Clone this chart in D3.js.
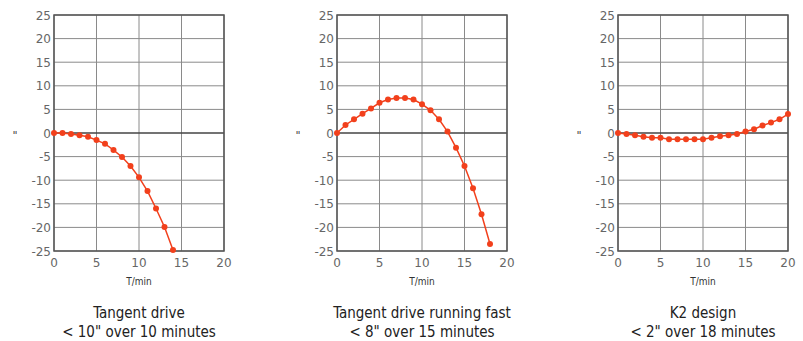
<!DOCTYPE html>
<html>
<head>
<meta charset="utf-8">
<script src="https://cdn.jsdelivr.net/npm/d3@7"></script>
<style>
  body { margin: 0; background: #fff; }
  svg { display: block; }
</style>
</head>
<body>
<div id="chart"></div>
<script>
// drift in arcseconds vs time (minutes), one array per panel
var tangentT = d3.range(0, 15);
var tangentY = [0, 0, -0.2, -0.5, -0.8, -1.5, -2.3, -3.6, -5.1, -7.0, -9.4, -12.3, -16.0, -19.9, -24.8];

var fastT = d3.range(0, 19);
var fastY = [0, 1.7, 2.9, 4.1, 5.2, 6.4, 7.1, 7.4, 7.4, 7.1, 6.1, 4.8, 2.9, 0.3, -3.1, -7.0, -11.7, -17.2, -23.5];

var k2T = d3.range(0, 21);
var k2Y = [0, -0.2, -0.5, -0.8, -1.0, -1.0, -1.3, -1.3, -1.3, -1.3, -1.3, -1.0, -0.7, -0.5, -0.2, 0.3, 0.8, 1.6, 2.2, 2.9, 4.0];

var xTicks = [0, 5, 10, 15, 20];
var yTicks = [-25, -20, -15, -10, -5, 0, 5, 10, 15, 20, 25];

var titles = [
  ["Tangent drive", "< 10\" over 10 minutes"],
  ["Tangent drive running fast", "< 8\" over 15 minutes"],
  ["K2 design", "< 2\" over 18 minutes"]
];

var panels = [
  {left: 54, t: tangentT, y: tangentY, title: titles[0]},
  {left: 337, t: fastT, y: fastY, title: titles[1]},
  {left: 618, t: k2T, y: k2Y, title: titles[2]}
];

var W = 803, H = 341;
var pw = 170, plotTop = 15, ph = 236;
var red = "#f2401c";

var svg = d3.select("#chart").append("svg")
    .attr("width", W)
    .attr("height", H);

panels.forEach(function(p) {
    var g = svg.append("g").attr("transform", "translate(" + p.left + "," + plotTop + ")");

    var x = d3.scaleLinear().domain([0, 20]).range([0, pw]);
    var y = d3.scaleLinear().domain([-25, 25]).range([ph, 0]);

    // grid
    g.selectAll(".vgrid").data(xTicks).enter().append("line")
        .attr("class", "vgrid")
        .attr("x1", function(d) { return x(d); })
        .attr("x2", function(d) { return x(d); })
        .attr("y1", 0).attr("y2", ph)
        .attr("stroke", "#8a8a8a").attr("stroke-width", 1);
    g.selectAll(".hgrid").data(yTicks).enter().append("line")
        .attr("class", "hgrid")
        .attr("y1", function(d) { return y(d); })
        .attr("y2", function(d) { return y(d); })
        .attr("x1", 0).attr("x2", pw)
        .attr("stroke", "#8a8a8a").attr("stroke-width", 1);

    // zero line
    g.append("line")
        .attr("x1", 0).attr("x2", pw)
        .attr("y1", y(0)).attr("y2", y(0))
        .attr("stroke", "#222").attr("stroke-width", 1.2);

    // frame
    g.append("rect")
        .attr("width", pw).attr("height", ph)
        .attr("fill", "none")
        .attr("stroke", "#555").attr("stroke-width", 1.5);

    // tick labels
    g.selectAll(".xl").data(xTicks).enter().append("text")
        .attr("class", "xl")
        .attr("x", function(d) { return x(d); })
        .attr("y", ph + 16)
        .attr("text-anchor", "middle")
        .attr("font-family", "DejaVu Sans")
        .attr("font-size", 12)
        .attr("fill", "#666")
        .text(function(d) { return d; });
    g.selectAll(".yl").data(yTicks).enter().append("text")
        .attr("class", "yl")
        .attr("x", -3)
        .attr("y", function(d) { return y(d) + 4.5; })
        .attr("text-anchor", "end")
        .attr("font-family", "DejaVu Sans")
        .attr("font-size", 12)
        .attr("fill", "#666")
        .text(function(d) { return d; });

    // axis labels
    g.append("text")
        .attr("x", -39).attr("y", y(0) + 6)
        .attr("text-anchor", "middle")
        .attr("font-family", "DejaVu Sans")
        .attr("font-size", 11)
        .attr("fill", "#444")
        .text("\"");
    g.append("text")
        .attr("x", pw / 2).attr("y", ph + 34)
        .attr("text-anchor", "middle")
        .attr("font-family", "DejaVu Sans Condensed")
        .attr("font-size", 10)
        .attr("fill", "#333")
        .text("T/min");

    // titles
    g.selectAll(".ttl").data(p.title).enter().append("text")
        .attr("class", "ttl")
        .attr("x", pw / 2)
        .attr("y", function(d, i) { return ph + 67 + i * 19; })
        .attr("text-anchor", "middle")
        .attr("font-family", "DejaVu Sans Condensed")
        .attr("font-size", 15)
        .attr("fill", "#222")
        .text(function(d) { return d; });

    var pts = p.t.map(function(t, i) { return {x: t, y: p.y[i]}; });
    var line = d3.line()
        .x(function(d) { return x(d.x); })
        .y(function(d) { return y(d.y); });

    g.append("path")
        .datum(pts)
        .attr("d", line)
        .attr("fill", "none")
        .attr("stroke", red)
        .attr("stroke-width", 1.5);

    g.selectAll(".pt").data(pts).enter().append("circle")
        .attr("class", "pt")
        .attr("cx", function(d) { return x(d.x); })
        .attr("cy", function(d) { return y(d.y); })
        .attr("r", 3)
        .attr("fill", red);
});
</script>
</body>
</html>
